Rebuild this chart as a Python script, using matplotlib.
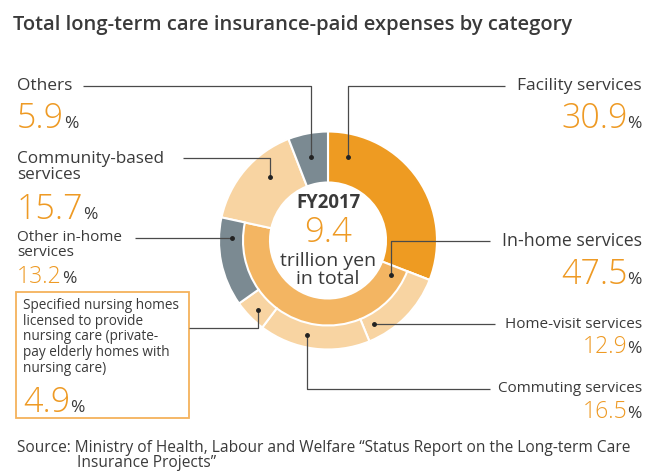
import matplotlib.pyplot as plt
from matplotlib.patches import Rectangle

plt.rcParams['font.family'] = ['Open Sans', 'DejaVu Sans']

# FY2017 long-term care insurance-paid expenses (% of total)
main_labels = ['Facility services', 'In-home services', 'Community-based\nservices', 'Others']
main_shares = [30.9, 47.5, 15.7, 5.9]
inhome_labels = ['Home-visit services', 'Commuting services',
                 'Specified nursing homes\nlicensed to provide\nnursing care (private-\npay elderly homes with\nnursing care)',
                 'Other in-home\nservices']
inhome_shares = [12.9, 16.5, 4.9, 13.2]
total_trillion_yen = 9.4
fiscal_year = 'FY2017'

W, H = 649, 472
DARK = '#3a3a3a'
NUM = '#ee9a24'
C_FACILITY = '#ee9b22'
C_INHOME = '#f3b562'
C_LIGHT = '#f8d4a2'
C_GRAY = '#7b8a92'


def Y(y):
    return H - y


fig = plt.figure(figsize=(W / 100, H / 100), dpi=100)
ax = fig.add_axes([0, 0, 1, 1])

cx, cy = 328, 240.5
r_out, r_mid, r_in = 109, 85, 58

# full-width ring: facility / in-home (inner) / community / others
wedges, _ = ax.pie(main_shares, radius=r_out, center=(cx, Y(cy)), startangle=90,
                   counterclock=False, colors=[C_FACILITY, C_INHOME, C_LIGHT, C_GRAY],
                   wedgeprops=dict(width=r_out - r_in, edgecolor='white', linewidth=1.5),
                   frame=True)

# outer band splitting in-home services
outer_vals = [main_shares[0]] + inhome_shares + main_shares[2:]
outer_cols = ['none', C_LIGHT, C_LIGHT, C_LIGHT, C_GRAY, 'none', 'none']
ow, _ = ax.pie(outer_vals, radius=r_out, center=(cx, Y(cy)), startangle=90,
               counterclock=False, colors=outer_cols,
               wedgeprops=dict(width=r_out - r_mid, edgecolor='white', linewidth=1.5),
               frame=True)
for i in (0, 5, 6):
    ow[i].set_visible(False)

ax.set_xlim(0, W)
ax.set_ylim(0, H)
ax.axis('off')

renderer = fig.canvas.get_renderer()


def pct(x, y, value, size, ha='left'):
    # y is the visual centre of the digits; number and % share one baseline
    base = Y(y + 0.49 * size)
    if ha == 'left':
        t = ax.text(x, base, f'{value:.1f}', fontsize=size, color=NUM, ha='left',
                    va='baseline', fontweight='light')
        x1 = t.get_window_extent(renderer).x1
        ax.text(x1, base, '%', fontsize=12.5, color=DARK, ha='left', va='baseline')
    else:
        p = ax.text(x, base, '%', fontsize=12.5, color=DARK, ha='right', va='baseline')
        x0 = p.get_window_extent(renderer).x0
        ax.text(x0, base, f'{value:.1f}', fontsize=size, color=NUM, ha='right',
                va='baseline', fontweight='light')


def leader(points):
    xs = [p[0] for p in points]
    ys = [Y(p[1]) for p in points]
    ax.plot(xs, ys, color='#4a4a4a', lw=0.9, solid_capstyle='butt')
    ax.plot(xs[-1], ys[-1], 'o', color='#222222', ms=2.5)


ax.text(13, Y(25), 'Total long-term care insurance-paid expenses by category',
        fontsize=14.5, fontweight='semibold', color=DARK, ha='left', va='center')

# left side labels
ax.text(17, Y(86), main_labels[3], fontsize=12.5, color=DARK, ha='left', va='center')
pct(17, 115.5, main_shares[3], 24.5)
leader([(83, 86), (311, 86), (311, 157)])

ax.text(17, Y(167), main_labels[2], fontsize=12.3, color=DARK, ha='left', va='center',
        linespacing=1.0)
pct(17, 207, main_shares[2], 24.5)
leader([(183, 158), (270, 158), (270, 177)])

ax.text(17, Y(245), inhome_labels[3], fontsize=11, color=DARK, ha='left', va='center',
        linespacing=0.95)
pct(17, 275, inhome_shares[3], 16.5)
leader([(135, 238), (232, 238)])

ax.add_patch(Rectangle((16, Y(418)), 173, 126, fill=False, edgecolor='#f5b25c', lw=1.3))
ax.text(23, Y(337), inhome_labels[2], fontsize=9.8, color=DARK, ha='left', va='center',
        linespacing=1.08)
pct(23, 400, inhome_shares[2], 24.5)
leader([(189, 328), (258, 328), (258, 310)])

# right side labels
ax.text(642, Y(86), main_labels[0], fontsize=12.5, color=DARK, ha='right', va='center')
pct(642, 116, main_shares[0], 24.5, ha='right')
leader([(505, 86), (348, 86), (348, 157)])

ax.text(642, Y(241), main_labels[1], fontsize=12.8, color=DARK, ha='right', va='center')
pct(642, 272, main_shares[1], 24.5, ha='right')
leader([(490, 241), (391, 241), (391, 275)])

ax.text(642, Y(324), inhome_labels[0], fontsize=11, color=DARK, ha='right', va='center')
pct(642, 345, inhome_shares[0], 16.5, ha='right')
leader([(495, 324), (374, 324)])

ax.text(642, Y(389), inhome_labels[1], fontsize=11, color=DARK, ha='right', va='center')
pct(642, 410, inhome_shares[1], 16.5, ha='right')
leader([(490, 389), (307, 389), (307, 335)])

# centre of the donut
ax.text(cx, Y(203), fiscal_year, fontsize=13.4, fontweight='bold', color=DARK,
        ha='center', va='center')
ax.text(cx, Y(233), f'{total_trillion_yen:.1f}', fontsize=25, fontweight='light', color=NUM,
        ha='center', va='center')
ax.text(cx, Y(270), 'trillion yen\nin total', fontsize=14, color=DARK, ha='center',
        va='center', linespacing=0.95)

ax.text(17, Y(448), 'Source: Ministry of Health, Labour and Welfare \u201cStatus Report on the Long-term Care',
        fontsize=11.2, color=DARK, ha='left', va='center')
ax.text(77, Y(463), 'Insurance Projects\u201d', fontsize=11.2, color=DARK, ha='left', va='center')

fig.savefig('out.png', dpi=100)
